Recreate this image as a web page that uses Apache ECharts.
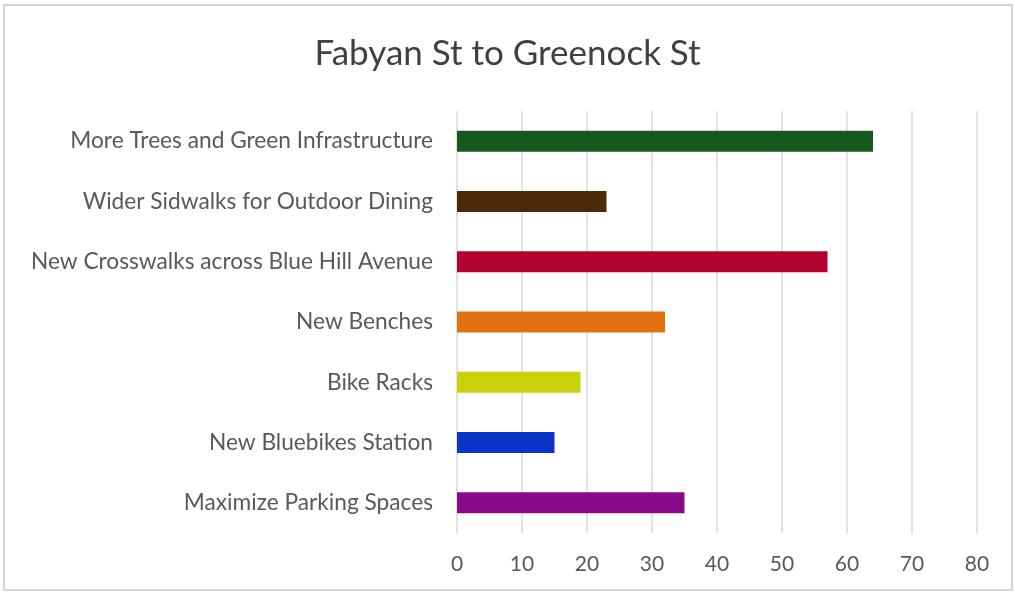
<!DOCTYPE html>
<html>
<head>
<meta charset="utf-8">
<script src="https://cdn.jsdelivr.net/npm/echarts@6/dist/echarts.min.js"></script>
<style>
  html, body { margin: 0; padding: 0; background: #ffffff; }
  #chart { width: 1015px; height: 595px; }
</style>
</head>
<body>
<div id="chart"></div>
<script>
// Survey responses: preferred streetscape improvements
const categories = [
  'More Trees and Green Infrastructure',
  'Wider Sidwalks for Outdoor Dining',
  'New Crosswalks across Blue Hill Avenue',
  'New Benches',
  'Bike Racks',
  'New Bluebikes Station',
  'Maximize Parking Spaces'
];
const values = [64, 23, 57, 32, 19, 15, 35];
const barColors = ['#16591c', '#4b2a0a', '#b0022c', '#e0730f', '#c9d10a', '#0b35c9', '#880a8a'];
const tickValues = [0, 10, 20, 30, 40, 50, 60, 70, 80];

const chart = echarts.init(document.getElementById('chart'), null, { renderer: 'canvas' });

chart.setOption({
  backgroundColor: '#ffffff',
  animation: false,
  title: {
    text: 'Fabyan St to Greenock St',
    left: 'center',
    top: 31,
    textStyle: { fontFamily: 'Lato', fontWeight: 'normal', fontSize: 35, color: '#404040' }
  },
  graphic: [{
    type: 'rect',
    shape: { x: 4, y: 5, width: 1008, height: 585 },
    style: { fill: 'none', stroke: '#d4d4d4', lineWidth: 2 },
    silent: true
  }],
  grid: { left: 457, right: 38, top: 111, bottom: 62, containLabel: false },
  xAxis: {
    type: 'value',
    min: tickValues[0],
    max: tickValues[tickValues.length - 1],
    interval: 10,
    axisLine: { show: false },
    axisTick: { show: false },
    splitLine: { show: true, lineStyle: { color: '#d9d9d9', width: 1.5 } },
    axisLabel: { margin: 21, fontFamily: 'Lato', fontSize: 21, color: '#595959' }
  },
  yAxis: {
    type: 'category',
    data: categories,
    inverse: true,
    axisLine: { show: false },
    axisTick: { show: false },
    axisLabel: { margin: 24, fontFamily: 'Lato', fontSize: 22.7, color: '#595959' }
  },
  series: [{
    type: 'bar',
    data: values.map((v, i) => ({ value: v, itemStyle: { color: barColors[i] } })),
    barWidth: 21
  }]
});
</script>
</body>
</html>
